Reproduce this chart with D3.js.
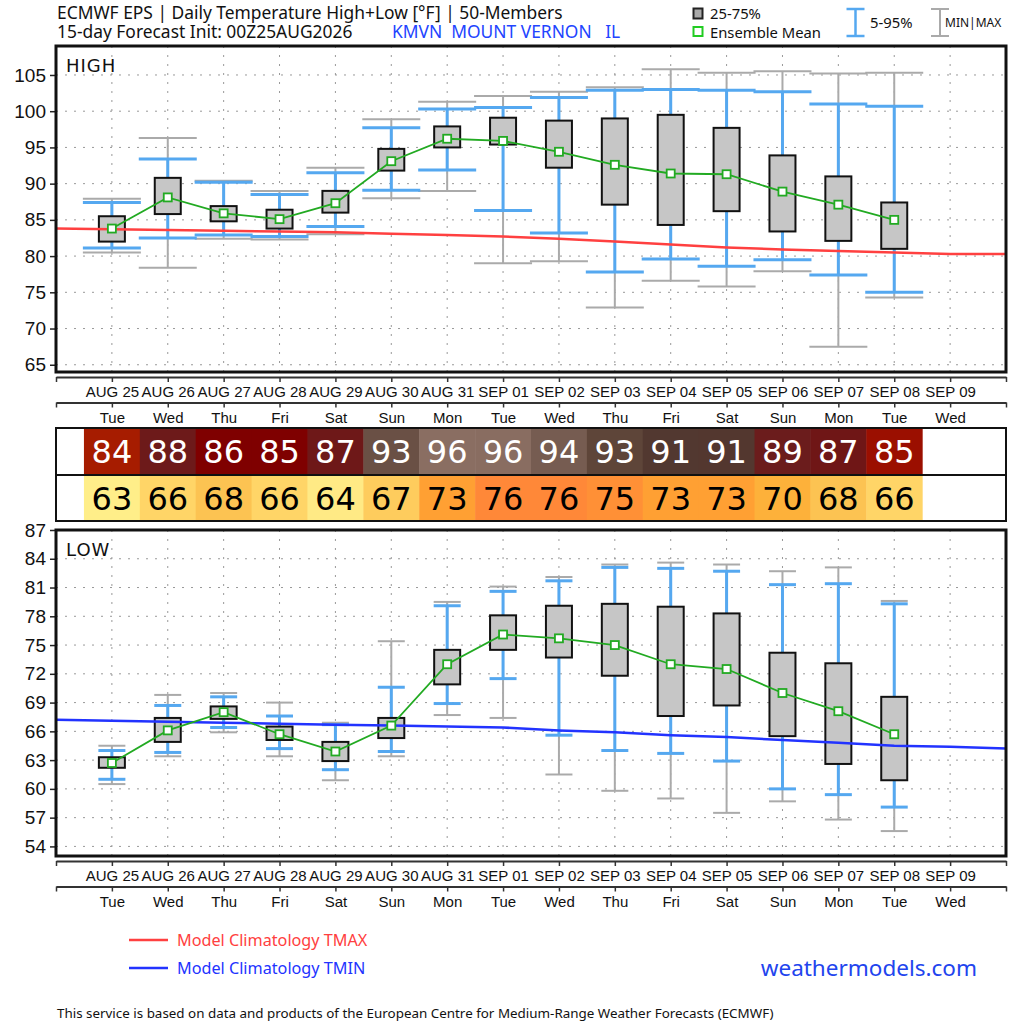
<!DOCTYPE html>
<html>
<head>
<meta charset="utf-8">
<script src="https://cdn.jsdelivr.net/npm/d3@7"></script>
<style>
  html, body { margin: 0; padding: 0; background: #fff; }
  svg { display: block; font-family: "Noto Sans", sans-serif; }
  .grid line { stroke: #999; stroke-width: 1; stroke-dasharray: 2,7; }
  .yaxis text { font-size: 19px; fill: #111; }
  .yaxis line { stroke: #222; stroke-width: 1.5; }
  .xaxis path { stroke: #333; stroke-width: 2; }
  .xaxis line { stroke: #333; stroke-width: 1.5; }
  .xaxis text { font-size: 15px; fill: #111; }
</style>
</head>
<body>
<svg id="chart" width="1024" height="1024"></svg>
<script>
// ECMWF EPS daily high/low box chart, KMVN

const dates = ["AUG 25", "AUG 26", "AUG 27", "AUG 28", "AUG 29", "AUG 30", "AUG 31", "SEP 01",
  "SEP 02", "SEP 03", "SEP 04", "SEP 05", "SEP 06", "SEP 07", "SEP 08", "SEP 09"];
const weekdays = ["Tue", "Wed", "Thu", "Fri", "Sat", "Sun", "Mon", "Tue",
  "Wed", "Thu", "Fri", "Sat", "Sun", "Mon", "Tue", "Wed"];

// high temps (°F), one per forecast day AUG 25 .. SEP 08
const highMax  = [87.9, 96.3, 90.4, 89.0, 92.2, 98.9, 101.3, 102.1, 102.7, 103.3, 105.8, 105.3, 105.5, 105.2, 105.3];
const highP95  = [87.4, 93.4, 90.2, 88.5, 91.5, 97.7, 100.3, 100.5, 101.9, 102.9, 103.0, 102.9, 102.7, 101.0, 100.7];
const highP75  = [85.5, 90.8, 86.9, 86.4, 89.0, 94.8, 97.9, 99.1, 98.7, 99.0, 99.5, 97.7, 93.9, 91.0, 87.4];
const highMean = [83.8, 88.1, 85.9, 85.1, 87.3, 93.1, 96.2, 95.9, 94.4, 92.6, 91.4, 91.3, 88.9, 87.1, 85.0];
const highP25  = [82.0, 85.8, 84.8, 83.8, 86.0, 91.8, 95.0, 95.4, 92.2, 87.1, 84.3, 86.2, 83.4, 82.1, 81.0];
const highP5   = [81.1, 82.5, 82.9, 82.7, 84.1, 89.1, 91.9, 86.3, 83.2, 77.8, 79.6, 78.6, 79.5, 77.4, 75.0];
const highMin  = [80.5, 78.4, 82.4, 82.3, 83.0, 88.0, 89.0, 79.0, 79.3, 72.9, 76.6, 75.8, 77.9, 67.5, 74.3];

// low temps (°F)
const lowMax  = [64.5, 69.8, 70.0, 69.0, 66.9, 75.4, 79.5, 81.1, 82.1, 83.4, 83.6, 83.4, 82.7, 83.1, 79.6];
const lowP95  = [64.0, 68.7, 69.6, 67.6, 66.7, 70.6, 79.1, 80.6, 81.7, 83.1, 83.0, 82.7, 81.3, 81.4, 79.3];
const lowP75  = [63.3, 67.4, 68.6, 66.5, 64.9, 67.4, 74.5, 78.1, 79.1, 79.3, 79.0, 78.3, 74.2, 73.1, 69.6];
const lowMean = [62.7, 66.1, 68.0, 65.7, 63.9, 66.6, 73.0, 76.1, 75.7, 75.0, 73.0, 72.5, 70.0, 68.1, 65.7];
const lowP25  = [62.2, 64.9, 67.3, 65.1, 62.9, 65.3, 70.9, 74.5, 73.7, 71.8, 67.6, 68.7, 65.5, 62.6, 60.9];
const lowP5   = [61.0, 63.8, 66.4, 64.2, 62.0, 63.9, 68.9, 71.5, 65.6, 64.0, 63.7, 62.9, 60.0, 59.4, 58.1];
const lowMin  = [60.5, 63.4, 65.9, 63.4, 60.9, 63.4, 67.7, 67.4, 61.5, 59.8, 59.0, 57.5, 58.7, 56.8, 55.6];

// model climatology, AUG 24 .. SEP 10 (one day either side of the axis)
const climTmax = [83.8, 83.7, 83.6, 83.5, 83.4, 83.3, 83.1, 82.9, 82.7, 82.4, 82.0, 81.6, 81.2, 80.9, 80.7, 80.5, 80.3, 80.3];
const climTmin = [67.2, 67.1, 67.0, 66.9, 66.8, 66.7, 66.6, 66.5, 66.4, 66.1, 65.9, 65.6, 65.4, 65.1, 64.8, 64.5, 64.4, 64.2];

const highTicks = [65, 70, 75, 80, 85, 90, 95, 100, 105];
const lowTicks = [54, 57, 60, 63, 66, 69, 72, 75, 78, 81, 84, 87];

const svg = d3.select("#chart");
svg.append("rect").attr("width", 1024).attr("height", 1024).attr("fill", "#fff");

const L = 56, R = 1006;
const x = d3.scaleLinear().domain([-1, 16]).range([L, R]);
const dayW = x(1) - x(0);

const yHigh = d3.scaleLinear().domain([64, 109]).range([372, 46]);
const yLow = d3.scaleLinear().domain([53, 87]).range([856, 530]);

// table shading by ensemble mean
const hiColor = d3.scaleLinear()
  .domain([83.8, 85.0, 85.1, 86, 87.2, 89, 91.4, 92.6, 93.1, 94.4, 96])
  .range(["#a61c00", "#9b0f00", "#7f0000", "#7f0000", "#6e1818", "#6b1c1c",
          "#523830", "#5e4539", "#6a5045", "#765c51", "#8a6e62"])
  .clamp(true);
const loColor = d3.scaleLinear()
  .domain([62, 64, 66, 68, 70, 73, 76])
  .range(["#fff28c", "#ffea85", "#ffd567", "#fcc352", "#fdb13a", "#ffa033", "#ff8838"])
  .clamp(true);

function drawPanel(cfg) {
  const { y, ticks, top, bottom, label, capW, stats, clim, climColor } = cfg;
  const g = svg.append("g");
  const n = stats.mean.length;

  // grid
  const grid = g.append("g").attr("class", "grid");
  grid.selectAll("line.h").data(ticks).enter().append("line")
    .attr("x1", L).attr("x2", R).attr("y1", d => y(d)).attr("y2", d => y(d));
  grid.selectAll("line.v").data(d3.range(dates.length)).enter().append("line")
    .attr("x1", d => x(d)).attr("x2", d => x(d)).attr("y1", top).attr("y2", bottom);

  // y axis
  g.append("g").attr("class", "yaxis")
    .attr("transform", `translate(${L},0)`)
    .call(d3.axisLeft(y).tickValues(ticks).tickSize(6).tickPadding(4))
    .call(a => a.select(".domain").remove());

  const idx = d3.range(n);

  // min|max whiskers
  const mm = g.append("g").attr("stroke", "#aaa").attr("stroke-width", 2);
  mm.selectAll("line.v").data(idx).enter().append("line")
    .attr("x1", i => x(i)).attr("x2", i => x(i))
    .attr("y1", i => y(stats.max[i])).attr("y2", i => y(stats.min[i]));
  ["max", "min"].forEach(k => {
    mm.selectAll("line." + k).data(idx).enter().append("line").attr("class", k)
      .attr("x1", i => x(i) - capW / 2).attr("x2", i => x(i) + capW / 2)
      .attr("y1", i => y(stats[k][i])).attr("y2", i => y(stats[k][i]));
  });

  // 5-95 whiskers
  const pp = g.append("g").attr("stroke", "#55a8f0").attr("stroke-width", 3);
  pp.selectAll("line.v").data(idx).enter().append("line")
    .attr("x1", i => x(i)).attr("x2", i => x(i))
    .attr("y1", i => y(stats.p95[i])).attr("y2", i => y(stats.p5[i]));
  ["p95", "p5"].forEach(k => {
    pp.selectAll("line." + k).data(idx).enter().append("line").attr("class", k)
      .attr("x1", i => x(i) - capW / 2).attr("x2", i => x(i) + capW / 2)
      .attr("y1", i => y(stats[k][i])).attr("y2", i => y(stats[k][i]));
  });

  // 25-75 boxes
  g.append("g").selectAll("rect").data(idx).enter().append("rect")
    .attr("x", i => x(i) - 13).attr("width", 26)
    .attr("y", i => y(stats.p75[i]))
    .attr("height", i => y(stats.p25[i]) - y(stats.p75[i]))
    .attr("fill", "#c6c6c6").attr("stroke", "#111").attr("stroke-width", 2);

  // climatology
  g.append("path").datum(clim)
    .attr("fill", "none").attr("stroke", climColor).attr("stroke-width", 2.5)
    .attr("d", d3.line().x((d, i) => x(i - 1)).y(d => y(d)));

  // ensemble mean
  g.append("path").datum(stats.mean)
    .attr("fill", "none").attr("stroke", "#22aa22").attr("stroke-width", 1.8)
    .attr("d", d3.line().x((d, i) => x(i)).y(d => y(d)));
  g.append("g").selectAll("rect").data(stats.mean).enter().append("rect")
    .attr("x", (d, i) => x(i) - 4).attr("y", d => y(d) - 4)
    .attr("width", 8).attr("height", 8)
    .attr("fill", "#fff").attr("stroke", "#22aa22").attr("stroke-width", 1.8);

  // frame
  g.append("rect").attr("x", L).attr("y", top).attr("width", R - L).attr("height", bottom - top)
    .attr("fill", "none").attr("stroke", "#111").attr("stroke-width", 3);

  g.append("text").attr("x", 66).attr("y", top + 26)
    .attr("font-family", "DejaVu Sans").attr("font-size", 18).attr("letter-spacing", 1)
    .attr("fill", "#111").text(label);
}

function drawDateAxis(top) {
  const tv = d3.range(-1, 17);
  const fmt = (arr) => d => (d >= 0 && d < arr.length ? arr[d] : "");
  svg.append("g").attr("class", "xaxis").attr("transform", `translate(0,${top})`)
    .call(d3.axisBottom(x).tickValues(tv).tickSize(5).tickSizeOuter(0).tickPadding(4.5).tickFormat(fmt(dates)));
  svg.append("g").attr("class", "xaxis").attr("transform", `translate(0,${top + 25.5})`)
    .call(d3.axisBottom(x).tickValues(tv).tickSize(5).tickSizeOuter(0).tickPadding(5).tickFormat(fmt(weekdays)));
}

drawPanel({
  y: yHigh, ticks: highTicks, top: 46, bottom: 372, label: "HIGH", capW: 58,
  stats: { max: highMax, p95: highP95, p75: highP75, mean: highMean, p25: highP25, p5: highP5, min: highMin },
  clim: climTmax, climColor: "#ff4040"
});
drawDateAxis(377);

drawPanel({
  y: yLow, ticks: lowTicks, top: 530, bottom: 856, label: "LOW", capW: 27,
  stats: { max: lowMax, p95: lowP95, p75: lowP75, mean: lowMean, p25: lowP25, p5: lowP5, min: lowMin },
  clim: climTmin, climColor: "#2233ff"
});
drawDateAxis(861);

// rounded mean table
const tTop = 428, tMid = 475, tBot = 521;
const tbl = svg.append("g");
tbl.selectAll("rect.hi").data(highMean).enter().append("rect")
  .attr("x", (d, i) => x(i) - dayW / 2).attr("width", dayW + 0.5)
  .attr("y", tTop).attr("height", tMid - tTop)
  .attr("fill", d => hiColor(d));
tbl.selectAll("rect.lo").data(lowMean).enter().append("rect")
  .attr("x", (d, i) => x(i) - dayW / 2).attr("width", dayW + 0.5)
  .attr("y", tMid).attr("height", tBot - tMid)
  .attr("fill", d => loColor(Math.round(d)));
tbl.selectAll("text.hi").data(highMean).enter().append("text")
  .attr("x", (d, i) => x(i)).attr("y", 463).attr("text-anchor", "middle")
  .attr("font-family", "DejaVu Sans").attr("font-size", 32).attr("fill", "#fff")
  .text(d => Math.round(d));
tbl.selectAll("text.lo").data(lowMean).enter().append("text")
  .attr("x", (d, i) => x(i)).attr("y", 510).attr("text-anchor", "middle")
  .attr("font-family", "DejaVu Sans").attr("font-size", 32).attr("fill", "#000")
  .text(d => Math.round(d));
tbl.append("rect").attr("x", L).attr("y", tTop).attr("width", R - L).attr("height", tBot - tTop)
  .attr("fill", "none").attr("stroke", "#111").attr("stroke-width", 2);
tbl.append("line").attr("x1", L).attr("x2", R).attr("y1", tMid).attr("y2", tMid)
  .attr("stroke", "#111").attr("stroke-width", 2);

// header
svg.append("text").attr("x", 57).attr("y", 19).attr("font-size", 17.4).attr("fill", "#111")
  .text("ECMWF EPS | Daily Temperature High+Low [°F] | 50-Members");
svg.append("text").attr("x", 57).attr("y", 38).attr("font-size", 17.4).attr("fill", "#111")
  .text("15-day Forecast Init: 00Z25AUG2026");
svg.append("text").attr("x", 392).attr("y", 38).attr("font-size", 17.4).attr("fill", "#2244ff")
  .attr("xml:space", "preserve").style("white-space", "pre")
  .text("KMVN  MOUNT VERNON   IL");

// header legend
const hl = svg.append("g").attr("font-size", 14.8).attr("fill", "#111");
hl.append("rect").attr("x", 693.5).attr("y", 8.5).attr("width", 9).attr("height", 10)
  .attr("fill", "#aaa").attr("stroke", "#222").attr("stroke-width", 2);
hl.append("text").attr("x", 710).attr("y", 19).text("25-75%");
hl.append("rect").attr("x", 693.5).attr("y", 27).attr("width", 9).attr("height", 9)
  .attr("fill", "#fff").attr("stroke", "#22cc22").attr("stroke-width", 2);
hl.append("text").attr("x", 710).attr("y", 37.5).text("Ensemble Mean");
const ib = (cx, color, w) => {
  const gg = hl.append("g").attr("stroke", color).attr("stroke-width", w);
  gg.append("line").attr("x1", cx).attr("x2", cx).attr("y1", 9).attr("y2", 36);
  gg.append("line").attr("x1", cx - 9).attr("x2", cx + 9).attr("y1", 9).attr("y2", 9);
  gg.append("line").attr("x1", cx - 9).attr("x2", cx + 9).attr("y1", 36).attr("y2", 36);
};
ib(855.5, "#55a8f0", 2.5);
ib(940, "#aaa", 2);
hl.append("text").attr("x", 870).attr("y", 28).text("5-95%");
hl.append("text").attr("x", 945).attr("y", 27).attr("font-size", 12).text("MIN|MAX");

// bottom legend
const bl = svg.append("g").attr("font-size", 16.2);
bl.append("line").attr("x1", 129).attr("x2", 168).attr("y1", 940).attr("y2", 940)
  .attr("stroke", "#ff4040").attr("stroke-width", 2.5);
bl.append("text").attr("x", 177).attr("y", 945.5).attr("fill", "#ff4040").text("Model Climatology TMAX");
bl.append("line").attr("x1", 129).attr("x2", 168).attr("y1", 968).attr("y2", 968)
  .attr("stroke", "#2233ff").attr("stroke-width", 2.5);
bl.append("text").attr("x", 177).attr("y", 973.5).attr("fill", "#2233ff").text("Model Climatology TMIN");
svg.append("text").attr("x", 977).attr("y", 975.5).attr("text-anchor", "end")
  .attr("font-size", 22.5).attr("fill", "#2244ee").text("weathermodels.com");
svg.append("text").attr("x", 57).attr("y", 1018).attr("font-size", 13.4).attr("fill", "#111")
  .text("This service is based on data and products of the European Centre for Medium-Range Weather Forecasts (ECMWF)");
</script>
</body>
</html>
